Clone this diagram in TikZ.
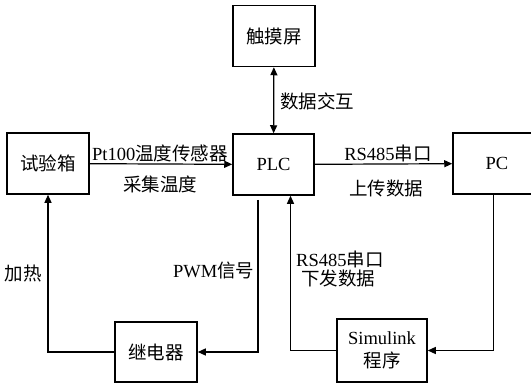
\documentclass[tikz,border=0pt]{standalone}
\usepackage{fontspec}
\setmainfont{Liberation Serif}
\newfontfamily\cjk{Noto Sans CJK SC}
\usetikzlibrary{arrows.meta}
\begin{document}
\begin{tikzpicture}[x=1pt,y=-1pt,
  font=\fontsize{18.5}{21}\selectfont,
  blk/.style={draw,line width=1.5pt,minimum width=82pt,minimum height=61pt,inner sep=0pt,align=center},
  conn/.style={line width=1.2pt,-{Triangle[length=8pt,width=7pt]}},
  biconn/.style={line width=1.2pt,{Triangle[length=8pt,width=7pt]}-{Triangle[length=8pt,width=7pt]}},
  lbl/.style={inner sep=0pt}]
\useasboundingbox (0,0) rectangle (531,383);
\clip (0,0) rectangle (531,383);
\node[blk] (touch) at (274,36) {\cjk 触摸屏};
\node[blk,minimum width=81pt] (plc) at (273.5,164.5) {PLC};
\node[blk] (box) at (48,163.5) {\cjk 试验箱};
\node[blk,minimum width=88pt] (pc) at (497,163.5) {PC};
\node[blk,minimum height=60pt] (relay) at (156,352) {\cjk 继电器};
\node[blk,minimum width=90pt,minimum height=63pt] (sim) at (382,350.5) {Simulink\\[2pt]{\cjk 程序}};
\draw[biconn] (touch) -- (plc);
\draw[conn] (box) -- (plc);
\draw[conn] (plc) -- (pc);
\coordinate (pwmstart) at ([xshift=-15.5pt,yshift=-4pt]plc.south);
\draw[conn] (pwmstart) |- (relay.east);
\draw[conn] (relay.west) -| (box.south);
\draw[conn] ([xshift=-3.5pt]pc.south) |- (sim.east);
\draw[conn] (sim.west) -| ([xshift=17pt]plc.south);
\node[lbl] (l1) at (160,153) {Pt100{\cjk 温度传感器}};
\node[lbl] (l2) at (160,184.5) {\cjk 采集温度};
\node[lbl] (l3) at (388,153) {RS485{\cjk 串口}};
\node[lbl] (l4) at (386,188) {\cjk 上传数据};
\node[lbl] (l5) at (317,101.5) {\cjk 数据交互};
\node[lbl] (l6) at (23.5,273) {\cjk 加热};
\node[lbl,anchor=east] (l7) at (254.5,270.5) {PWM{\cjk 信号}};
\node[lbl,anchor=west] (l8) at (296,259.5) {RS485{\cjk 串口}};
\node[lbl,anchor=west] (l9) at (301,278) {\cjk 下发数据};
\end{tikzpicture}
\end{document}
